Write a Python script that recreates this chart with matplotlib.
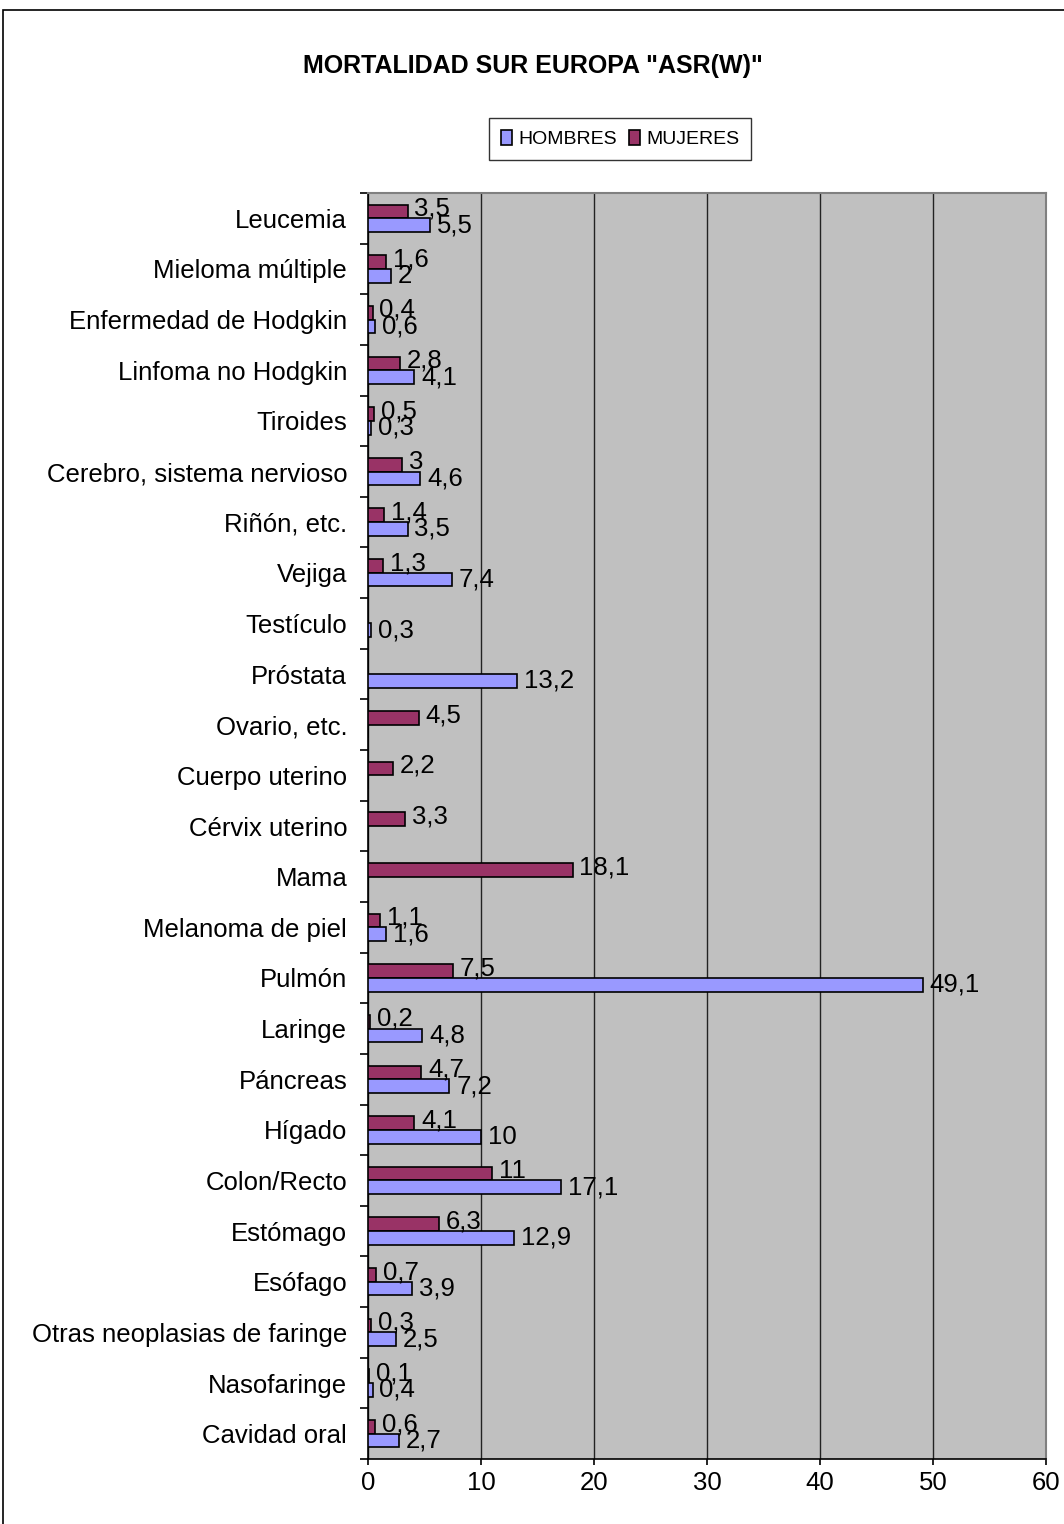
import matplotlib
matplotlib.use("Agg")
import matplotlib.pyplot as plt
from matplotlib.patches import Rectangle
import numpy as np

plt.rcParams['font.family'] = ['Liberation Sans', 'DejaVu Sans']

categories = [
    "Cavidad oral", "Nasofaringe", "Otras neoplasias de faringe", "Esófago",
    "Estómago", "Colon/Recto", "Hígado", "Páncreas", "Laringe", "Pulmón",
    "Melanoma de piel", "Mama", "Cérvix uterino", "Cuerpo uterino",
    "Ovario, etc.", "Próstata", "Testículo", "Vejiga", "Riñón, etc.",
    "Cerebro, sistema nervioso", "Tiroides", "Linfoma no Hodgkin",
    "Enfermedad de Hodgkin", "Mieloma múltiple", "Leucemia",
]
hombres = [2.7, 0.4, 2.5, 3.9, 12.9, 17.1, 10, 7.2, 4.8, 49.1,
           1.6, 0, 0, 0, 0, 13.2, 0.3, 7.4, 3.5, 4.6, 0.3, 4.1, 0.6, 2, 5.5]
mujeres = [0.6, 0.1, 0.3, 0.7, 6.3, 11, 4.1, 4.7, 0.2, 7.5,
           1.1, 18.1, 3.3, 2.2, 4.5, 0, 0, 1.3, 1.4, 3, 0.5, 2.8, 0.4, 1.6, 3.5]
x_ticks = [0, 10, 20, 30, 40, 50, 60]

COL_H = "#9999FF"
COL_M = "#993366"
FS = 18.5

W, H = 1064, 1524
fig = plt.figure(figsize=(W / 100, H / 100), dpi=100)
fig.patch.set_facecolor("white")

# outer chart frame
fig.add_artist(Rectangle((3 / W, -0.05), 1.2, 1 - 10 / H + 0.05,
                         transform=fig.transFigure, fill=False,
                         edgecolor="black", linewidth=1.2))

ax = fig.add_axes([368 / W, 1 - 1459 / H, (1046 - 368) / W, (1459 - 193) / H])
ax.set_facecolor("#C0C0C0")

y = np.arange(len(categories))
bh = 0.27
ax.barh(y + bh / 2, mujeres, height=bh, color=COL_M, edgecolor="black",
        linewidth=1.2, label="MUJERES", zorder=3)
ax.barh(y - bh / 2, hombres, height=bh, color=COL_H, edgecolor="black",
        linewidth=1.2, label="HOMBRES", zorder=3)

def fmt(v):
    return ("%g" % v).replace(".", ",")

for yi, v in zip(y, mujeres):
    if v > 0:
        ax.annotate(fmt(v), (v, yi + bh / 2), xytext=(5, 2),
                    textcoords="offset points", ha="left", va="center",
                    fontsize=FS, zorder=4)
for yi, v in zip(y, hombres):
    if v > 0:
        ax.annotate(fmt(v), (v, yi - bh / 2), xytext=(5, 0),
                    textcoords="offset points", ha="left", va="center",
                    fontsize=FS, zorder=4)

ax.set_xlim(0, 60)
ax.set_ylim(-0.5, len(categories) - 0.5)
ax.set_xticks(x_ticks)
ax.set_xticklabels([str(t) for t in x_ticks], fontsize=FS)
ax.set_yticks(y)
ax.set_yticklabels(categories, fontsize=FS)
ax.tick_params(axis="y", length=0, pad=15)
ax.set_yticks(np.arange(len(categories) + 1) - 0.5, minor=True)
ax.tick_params(axis="y", which="minor", length=6, width=1.2, direction="out")
ax.tick_params(axis="x", length=4, width=1.2, direction="out", pad=5)

ax.grid(axis="x", color="#222222", linewidth=1.0, zorder=1)
ax.set_axisbelow(True)
for side in ("top", "right"):
    ax.spines[side].set_color("#808080")
    ax.spines[side].set_linewidth(1.5)
for side in ("left", "bottom"):
    ax.spines[side].set_color("black")
    ax.spines[side].set_linewidth(1.2)

fig.text(533 / W, 1 - 66 / H, 'MORTALIDAD SUR EUROPA "ASR(W)"',
         ha="center", va="center", fontsize=18, fontweight="bold")

handles, labels = ax.get_legend_handles_labels()
leg = fig.legend(handles[::-1], labels[::-1], loc="center",
                 bbox_to_anchor=(620 / W, 1 - 139 / H), ncol=2,
                 fontsize=14, frameon=True, fancybox=False,
                 handlelength=0.6, handleheight=0.8, handletextpad=0.3,
                 columnspacing=0.6, borderpad=0.6)
leg.get_frame().set_edgecolor("black")
leg.get_frame().set_linewidth(1.0)

fig.savefig("out.png", dpi=100, facecolor="white")
